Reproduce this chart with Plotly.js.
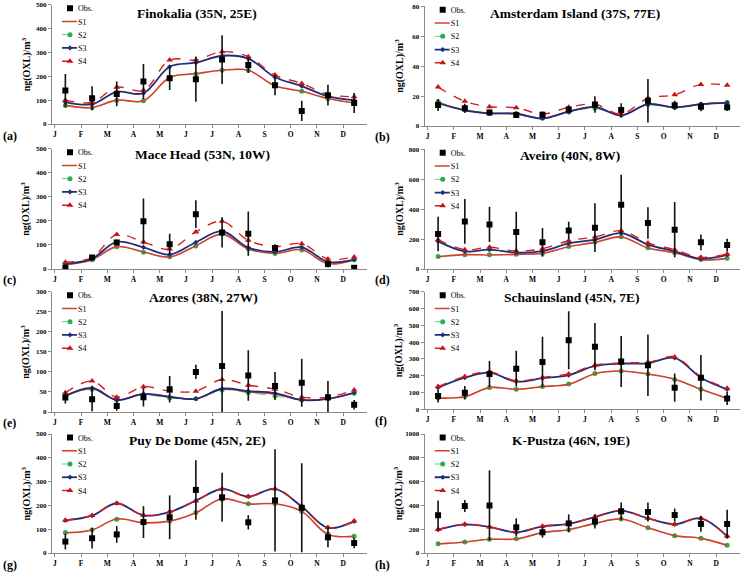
<!DOCTYPE html>
<html><head><meta charset="utf-8">
<script src="https://cdn.plot.ly/plotly-3.0.1.min.js"></script>
<style>html,body{margin:0;padding:0;background:#fff}</style>
</head><body><div id="chart" style="width:746px;height:574px"></div>
<script>
// ---------- data ----------
const monthLabels = ['J','F','M','A','M','J','J','A','S','O','N','D'];
const monthPos = [0.4,1.42,2.36,3.38,4.38,5.38,6.38,7.38,8.4,9.42,10.42,11.42];

const finokaliaObs = [140,108,126,178,192,188,270,247,162,55,121,88];
const finokaliaErr = [70,50,52,73,50,95,102,33,42,42,43,42];
const finokaliaS1 = [78,69,100,97,195,211,225,225,160,137,107,88];
const finokaliaS2 = [78,68,100,97,194,210,225,225,159,137,106,88];
const finokaliaS3 = [92,83,135,129,240,257,286,274,196,159,116,100];
const finokaliaS4 = [100,91,154,141,268,268,303,282,205,170,124,114];

const amsterdamObs = [14,11.8,9.1,7.4,7.6,11.1,14.3,10.7,16.9,13.8,12.9,12.5];
const amsterdamErr = [4,3,2,1.5,2,2,5.5,4.5,14.5,3,3,2.5];
const amsterdamS1 = [15.6,10.7,8.5,8.2,5.1,9.6,12.5,7.1,14.5,12.5,14.5,15.6];
const amsterdamS2 = [16.2,10.9,8.6,8.3,5.3,9.4,11.8,7.3,14.3,12.6,14.3,15.9];
const amsterdamS3 = [15.2,10.5,8.5,8.2,5.0,9.6,12.7,7.1,14.6,12.4,14.6,15.5];
const amsterdamS4 = [26,16.5,12.9,12.2,8.0,12.5,14.5,8.0,18.5,20.9,27.8,27.2];

const maceObs = [5,48,110,198,103,228,152,147,87,null,21,5];
const maceErr = [5,10,10,95,43,58,63,92,10,null,15,0];
const maceS1 = [18,39,93,71,50,97,145,83,65,80,22,39];
const maceS2 = [18,38,92,70,51,96,147,84,64,79,24,38];
const maceS3 = [21,43,113,90,60,111,157,89,71,90,30,39];
const maceS4 = [28,48,143,112,83,154,198,119,93,105,42,50];

const aveiroObs = [234,318,298,247,178,258,276,430,307,263,178,160];
const aveiroErr = [115,150,118,135,96,57,163,200,105,185,53,43];
const aveiroS1 = [82,96,94,98,105,149,178,214,140,109,62,71];
const aveiroS2 = [83,95,95,99,104,150,180,215,142,108,63,72];
const aveiroS3 = [185,118,129,109,120,171,196,240,163,118,69,94];
const aveiroS4 = [196,129,145,120,136,189,214,256,174,129,78,100];

const azoresObs = [36,32,15,37,57,100,115,91,65,73,37,18];
const azoresErr = [15,30,12,23,33,18,137,63,35,60,40,12];
const azoresS1 = [40,58,30,45,37,33,57,50,45,30,33,48];
const azoresS2 = [40,57,30,43,35,33,55,48,40,30,33,47];
const azoresS3 = [40,60,30,45,38,33,58,52,47,30,33,48];
const azoresS4 = [48,77,37,63,52,52,81,67,57,37,37,55];

const schauObs = [79,99,210,242,282,411,373,284,262,129,188,65];
const schauErr = [38,40,78,107,150,172,140,152,183,84,135,40];
const schauS1 = [67,75,129,119,135,149,212,228,210,179,119,65];
const schauS2 = [68,76,130,120,136,150,213,228,210,178,120,66];
const schauS3 = [129,188,218,165,185,204,258,272,274,306,188,119];
const schauS4 = [135,195,223,170,190,210,263,276,280,312,194,125];

const puyObs = [48,62,78,130,150,265,234,129,221,190,66,42];
const puyErr = [33,43,35,67,92,125,103,30,215,187,42,22];
const puyS1 = [85,97,143,127,134,169,228,206,207,175,78,70];
const puyS2 = [86,98,142,128,134,170,226,207,208,174,80,70];
const puyS3 = [137,157,209,158,172,220,269,237,269,195,106,133];
const puyS4 = [138,158,209,159,173,219,269,237,270,196,107,134];

const kpusztaObs = [317,395,400,216,174,249,266,350,345,319,244,244];
const kpusztaErr = [125,50,295,75,45,75,60,75,80,55,65,120];
const kpusztaS1 = [76,92,115,118,171,196,249,286,213,146,123,64];
const kpusztaS2 = [77,93,116,119,170,195,248,286,212,145,124,65];
const kpusztaS3 = [196,241,218,174,224,244,302,356,291,241,291,140];
const kpusztaS4 = [197,242,219,176,225,245,303,355,292,242,292,141];

const siteTitles = ['Finokalia (35N, 25E)','Amsterdam Island (37S, 77E)','Mace Head (53N, 10W)','Aveiro (40N, 8W)',
  'Azores (38N, 27W)','Schauinsland (45N, 7E)','Puy De Dome (45N, 2E)','K-Pustza (46N, 19E)'];
const panelLetters = ['(a)','(b)','(c)','(d)','(e)','(f)','(g)','(h)'];
const yMaxes = [500,80,500,800,300,700,500,1000];
const yDticks = [100,20,100,200,50,100,100,200];

const siteData = [
  [finokaliaObs,finokaliaErr,finokaliaS1,finokaliaS2,finokaliaS3,finokaliaS4],
  [amsterdamObs,amsterdamErr,amsterdamS1,amsterdamS2,amsterdamS3,amsterdamS4],
  [maceObs,maceErr,maceS1,maceS2,maceS3,maceS4],
  [aveiroObs,aveiroErr,aveiroS1,aveiroS2,aveiroS3,aveiroS4],
  [azoresObs,azoresErr,azoresS1,azoresS2,azoresS3,azoresS4],
  [schauObs,schauErr,schauS1,schauS2,schauS3,schauS4],
  [puyObs,puyErr,puyS1,puyS2,puyS3,puyS4],
  [kpusztaObs,kpusztaErr,kpusztaS1,kpusztaS2,kpusztaS3,kpusztaS4]
];

// ---------- layout geometry (pixels) ----------
const W = 746, H = 574;
const colLeft = [52, 424.7], colRight = [367, 740];
const panelBottom = [124,126,269,269,412,409.3,553,553];
const panelTop = [4.7,6.3,148.7,149.3,291.7,291.7,434,434];
const titleX = [197,575,202,570,203,571,197,571];
const titleY = [13,13,154,155,297,297,440,440];
const letterY = [136,137,280,280,423,421,565,565];

const FONT = 'Liberation Serif, Times New Roman, serif';
const S1C = '#d2402f', S2C = '#22b14c', S3C = '#1f2e7a', S4C = '#d81f1f';

const traces = [];
const layout = {
  width: W, height: H, margin: {l:0,r:0,t:0,b:0},
  paper_bgcolor: '#fff', plot_bgcolor: 'rgba(0,0,0,0)',
  font: {family: FONT, color: '#000'},
  showlegend: true, annotations: []
};

for (let p = 0; p < 8; p++) {
  const n = p === 0 ? '' : String(p + 1);
  const col = p % 2;
  const [obs, err, s1, s2, s3, s4] = siteData[p];
  const xa = 'x' + n, ya = 'y' + n, lg = 'legend' + n;
  const common = {x: monthPos, xaxis: xa, yaxis: ya, legend: lg, cliponaxis: true};
  traces.push(Object.assign({}, common, {y: s2, name: 'S2', type: 'scatter', mode: 'lines+markers', legendrank: 3,
    line: {color: '#5fd08a', width: 1, dash: 'dash', shape: 'spline', smoothing: 1},
    marker: {color: S2C, size: 5, symbol: 'circle'}}));
  traces.push(Object.assign({}, common, {y: s1, name: 'S1', type: 'scatter', mode: 'lines', legendrank: 2,
    line: {color: S1C, width: 1.6, shape: 'spline', smoothing: 1}}));
  traces.push(Object.assign({}, common, {y: s3, name: 'S3', type: 'scatter', mode: 'lines+markers', legendrank: 4,
    line: {color: S3C, width: 1.8, shape: 'spline', smoothing: 1},
    marker: {color: S3C, size: 4, symbol: 'diamond'}}));
  traces.push(Object.assign({}, common, {y: s4, name: 'S4', type: 'scatter', mode: 'lines+markers', legendrank: 5,
    line: {color: S4C, width: 1.4, dash: 'dash', shape: 'spline', smoothing: 1},
    marker: {color: '#c81414', size: 6, symbol: 'triangle-up'}}));
  traces.push(Object.assign({}, common, {y: obs, name: 'Obs.', type: 'scatter', mode: 'markers', legendrank: 1,
    marker: {color: '#000', size: 6, symbol: 'square'},
    error_y: {type: 'data', array: err, visible: true, color: '#111', thickness: 1.6, width: 0}}));

  const yDom = [1 - panelBottom[p] / H, 1 - panelTop[p] / H];
  const xDom = [colLeft[col] / W, colRight[col] / W];
  layout['xaxis' + n] = {
    domain: xDom, anchor: ya, range: [-0.11, 11.91], showgrid: false, zeroline: false,
    showline: true, linecolor: '#8a8a8a', linewidth: 1,
    ticks: 'outside', ticklen: 3, tickcolor: '#8a8a8a',
    tickmode: 'array', tickvals: [0,1,2,3,4,5,6,7,8,9,10,11], ticktext: monthLabels,
    minor: {tickmode: 'linear', tick0: 0, dtick: 1, ticks: 'outside', ticklen: 3, tickcolor: '#8a8a8a', showgrid: false},
    tickfont: {family: FONT, size: 7.5, weight: 'bold', color: '#000'}, fixedrange: true
  };
  layout['yaxis' + n] = {
    domain: yDom, anchor: xa, range: [0, yMaxes[p]], dtick: yDticks[p], showgrid: false, zeroline: false,
    showline: true, linecolor: '#8a8a8a', linewidth: 1,
    ticks: 'outside', ticklen: 3, tickcolor: '#8a8a8a',
    tickfont: {family: FONT, size: 7, weight: 'bold', color: '#000'}, fixedrange: true
  };
  // legend box starts left of the axis; its symbols are shifted right below so the text sits close to them
  layout[lg] = {
    x: (colLeft[col] - 14) / W, y: 1 - (panelTop[p] - 2) / H, xanchor: 'left', yanchor: 'top',
    xref: 'paper', yref: 'paper', bgcolor: 'rgba(0,0,0,0)', borderwidth: 0,
    font: {family: FONT, size: 8, color: '#000'}, itemwidth: 30, tracegroupgap: 0
  };
  layout.annotations.push({
    text: '<b>' + siteTitles[p] + '</b>', x: titleX[p] / W, y: 1 - titleY[p] / H,
    xref: 'paper', yref: 'paper', showarrow: false, xanchor: 'center', yanchor: 'middle',
    font: {family: FONT, size: 13.5, color: '#000'}
  });
  layout.annotations.push({
    text: '<b>ng(OXL)/m<sup>3</sup></b>', textangle: -90,
    x: (colLeft[col] - 26) / W, y: (yDom[0] + yDom[1]) / 2,
    xref: 'paper', yref: 'paper', showarrow: false, xanchor: 'center', yanchor: 'middle',
    font: {family: FONT, size: 10, color: '#000'}
  });
  layout.annotations.push({
    text: '<b>' + panelLetters[p] + '</b>', x: (col === 0 ? 1 : 373) / W, y: 1 - letterY[p] / H,
    xref: 'paper', yref: 'paper', showarrow: false, xanchor: 'left', yanchor: 'middle',
    font: {family: FONT, size: 12, color: '#000'}
  });
}

function getTranslate(el) {
  const m = /translate\(\s*([-\d.e]+)[ ,]*([-\d.e]+)?/.exec(el.getAttribute('transform') || '');
  return m ? [+m[1], +(m[2] || 0)] : [0, 0];
}

// compact the legend entries to the reference's tighter spacing and shorter symbols
function compactLegends(gd) {
  try {
    gd.querySelectorAll('g.scrollbox').forEach(sb => {
      const items = Array.from(sb.querySelectorAll('g.traces'));
      if (!items.length) return;
      const ys = items.map(it => {
        const g = it.parentNode;
        return getTranslate(it)[1] + (g && g.classList && g.classList.contains('groups') ? getTranslate(g)[1] : 0);
      });
      const y0 = Math.min.apply(null, ys);
      sb.querySelectorAll('g.groups').forEach(g => g.setAttribute('transform', 'translate(0,0)'));
      items.forEach((it, i) => {
        it.setAttribute('transform', 'translate(0,' + (y0 - 9 + (ys[i] - y0) * 13.25 / 19) + ')');
        it.querySelectorAll('g.legendlines path').forEach(pth => pth.setAttribute('d', 'M24,0h15'));
        it.querySelectorAll('g.legendpoints path').forEach(pth => pth.setAttribute('transform', 'translate(32,0)'));
      });
    });
  } catch (e) { console.log(e); }
}

Plotly.newPlot('chart', traces, layout, {displayModeBar: false, staticPlot: true}).then(compactLegends);
</script></body></html>
